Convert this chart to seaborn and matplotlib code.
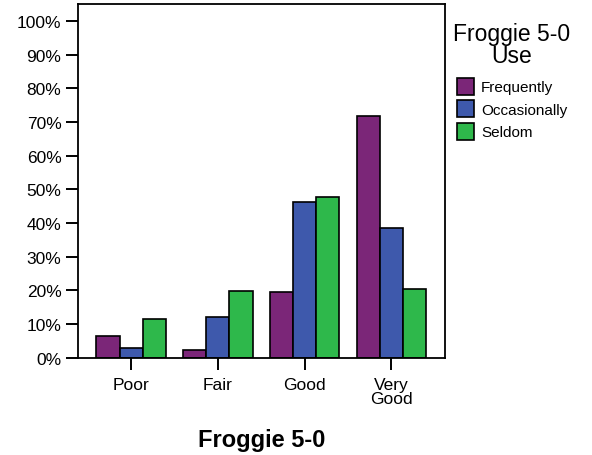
import pandas as pd
import seaborn as sns
import matplotlib.pyplot as plt
from matplotlib.ticker import PercentFormatter

# values (percent within each use group)
ratings = ['Poor', 'Fair', 'Good', 'Very\nGood']
use_groups = ['Frequently', 'Occasionally', 'Seldom']
frequently = [6.4, 2.2, 19.4, 71.8]
occasionally = [2.8, 12.2, 46.3, 38.6]
seldom = [11.5, 19.9, 47.8, 20.4]
colors = ['#7B2678', '#3E59AC', '#2EB84B']

df = pd.DataFrame({
    'rating': ratings * 3,
    'use': [g for g in use_groups for _ in ratings],
    'pct': frequently + occasionally + seldom,
})

sns.set_style('white')
plt.rcParams['font.family'] = ['Liberation Sans', 'DejaVu Sans']
plt.rcParams['text.color'] = 'black'
plt.rcParams['axes.labelcolor'] = 'black'
plt.rcParams['xtick.color'] = 'black'
plt.rcParams['ytick.color'] = 'black'

fig = plt.figure(figsize=(5.92, 4.56), dpi=100)
ax = fig.add_axes([0.132, 0.213, 0.620, 0.776])

sns.barplot(data=df, x='rating', y='pct', hue='use', order=ratings,
            hue_order=use_groups, palette=colors, saturation=1, width=0.8,
            edgecolor='black', linewidth=1.2, ax=ax)

ax.set_ylim(0, 105)
ax.set_xlim(-0.61, 3.62)
ax.set_yticks(range(0, 101, 10))
ax.yaxis.set_major_formatter(PercentFormatter(decimals=0))
ax.tick_params(axis='both', direction='out', length=8.5, width=1.4,
               labelsize=12.5, color='black', labelcolor='black',
               left=True, bottom=True)
ax.tick_params(axis='x', pad=5)
for lbl in ax.get_xticklabels():
    lbl.set_linespacing(0.95)
for s in ax.spines.values():
    s.set_color('black')
    s.set_linewidth(1.3)
ax.set_ylabel('')
ax.set_xlabel('Froggie 5-0', fontsize=17, fontweight='bold', labelpad=16)

leg = ax.legend(title='Froggie 5-0\nUse', loc='upper left',
                bbox_to_anchor=(0.993, 0.98), frameon=False, fontsize=11,
                title_fontsize=16.5, handlelength=1.15, handleheight=1.3,
                handletextpad=0.45, labelspacing=0.38, borderaxespad=0.3)
leg.get_title().set_multialignment('center')
leg.get_title().set_linespacing(0.95)
leg._legend_box.sep = 8

fig.savefig('out.png', dpi=100)
